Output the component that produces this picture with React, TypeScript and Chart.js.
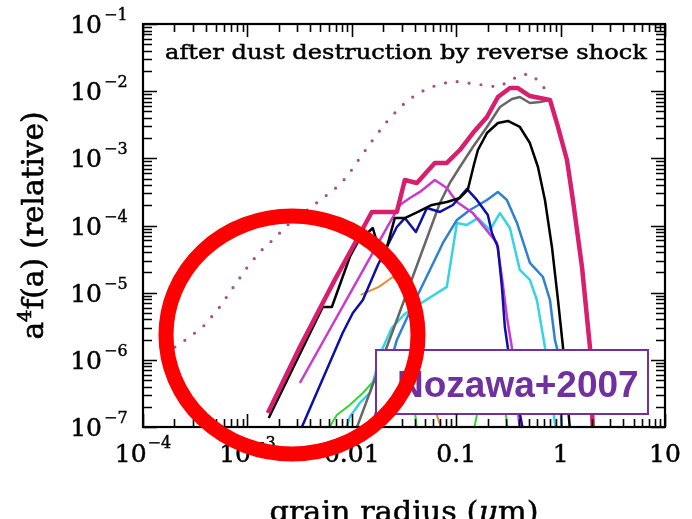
import React, { useEffect, useRef } from "react";
import { Chart, registerables } from "chart.js";

Chart.register(...registerables);

// ---------- axes ----------
const xRange = [1e-4, 10];
const yRange = [1e-7, 1e-1];
const xTickValues = [1e-4, 1e-3, 1e-2, 1e-1, 1, 10];
const xTickBase = ["10", "10", "0.01", "0.1", "1", "10"];
const xTickSup = ["−4", "−3", "", "", "", ""];
const yTickValues = [1e-1, 1e-2, 1e-3, 1e-4, 1e-5, 1e-6, 1e-7];
const yTickBase = ["10", "10", "10", "10", "10", "10", "10"];
const yTickSup = ["−1", "−2", "−3", "−4", "−5", "−6", "−7"];

const annotationText = "after dust destruction by reverse shock";
const xTitleParts = ["grain radius (", "μ", "m)"];
const yTitleParts = ["a", "4", "f(a) (relative)"];
const sourceLabel = "Nozawa+2007";

// ---------- series (grain radius in μm, a^4 f(a)) ----------
const dottedX = [2.02e-4, 2.81e-4, 3.91e-4, 5.43e-4, 7.24e-4, 9.86e-4, 1.31e-3, 1.75e-3, 2.55e-3, 3.62e-3, 5.16e-3, 6.87e-3, 8.95e-3, 0.01194, 0.01663, 0.02312, 0.0344, 0.0536, 0.091, 0.151, 0.2506, 0.327, 0.407, 0.508, 0.634, 0.7396];
const dottedY = [1.55e-6, 2.19e-6, 3.3e-6, 6.12e-6, 1.17e-5, 2.33e-5, 4.04e-5, 6.08e-5, 1.09e-4, 1.64e-4, 2.48e-4, 3.5e-4, 5.27e-4, 1.01e-3, 2.08e-3, 3.99e-3, 7.4e-3, 0.01114, 0.01416, 0.0128, 0.01153, 0.01416, 0.01742, 0.01803, 0.01371, 9.73e-3];

const green1X = [0.00589, 0.00719, 0.00957, 0.01276, 0.01592, 0.0231, 0.0322, 0.0385, 0.042];
const green1Y = [9e-8, 1.51e-7, 2.13e-7, 3.21e-7, 4.68e-7, 9.3e-7, 9.3e-7, 3.56e-7, 9e-8];

const green2X = [0.1476, 0.1687, 0.2198, 0.28, 0.3126];
const green2Y = [9e-8, 2.52e-7, 7.06e-7, 3.56e-7, 9e-8];

const orangeX = [0.01219, 0.01816, 0.0247, 0.0337, 0.0411, 0.0469, 0.0585, 0.0729];
const orangeY = [9.25e-6, 1.22e-5, 1.71e-5, 1.22e-5, 3.92e-6, 9.95e-7, 2.52e-7, 9e-8];

const cyanX = [0.00877, 0.00957, 0.01194, 0.01489, 0.01941, 0.02415, 0.0322, 0.048, 0.0813, 0.1016, 0.1265, 0.1614, 0.2104, 0.2624, 0.327, 0.407, 0.508, 0.593, 0.708, 0.9016];
const cyanY = [9e-8, 1.41e-7, 2.28e-7, 3.21e-7, 1.4e-6, 2.98e-6, 4.82e-6, 7.26e-6, 1.22e-5, 1.09e-4, 1.02e-4, 1.29e-4, 8.57e-5, 1.53e-4, 9.18e-5, 2.18e-5, 1.55e-5, 7.78e-6, 1.55e-6, 9e-8];

const steelX = [0.01521, 0.027, 0.0393, 0.056, 0.0746, 0.1016, 0.1352, 0.197, 0.2506, 0.306, 0.382, 0.508, 0.678, 0.791, 0.883, 0.923, 1.03];
const steelY = [9e-8, 1.97e-6, 7.0e-6, 2.18e-5, 5.5e-5, 1.21e-4, 1.7e-4, 2.4e-4, 3.16e-4, 2.4e-4, 1.09e-4, 2.77e-5, 1.71e-5, 7.78e-6, 1.97e-6, 1.5e-6, 9e-8];

const grayX = [0.01094, 0.027, 0.0698, 0.0869, 0.1084, 0.1445, 0.197, 0.2624, 0.342, 0.407, 0.508, 0.634, 0.791, 0.944, 1.151, 1.312, 1.603, 1.91, 2.04];
const grayY = [9e-8, 3.92e-6, 2.16e-4, 4.3e-4, 7.43e-4, 1.476e-3, 2.93e-3, 5.81e-3, 7.64e-3, 8.18e-3, 6.67e-3, 6.9e-3, 7.4e-3, 2.93e-3, 9.44e-4, 2.4e-4, 2.41e-5, 1.55e-6, 8e-8];

const magentaX = [0.00318, 0.01858, 0.02884, 0.036, 0.0449, 0.0624, 0.0813, 0.1016, 0.1445, 0.2455, 0.274, 0.306, 0.342, 0.407];
const magentaY = [4.52e-7, 6.08e-5, 2.02e-4, 2.57e-4, 3.16e-4, 4.76e-4, 3.61e-4, 2.24e-4, 1.53e-4, 5.5e-5, 1.71e-5, 4.35e-6, 1.5e-6, 9e-8];

const navyX = [0.00323, 0.00817, 0.01023, 0.01276, 0.01778, 0.027, 0.0322, 0.0411, 0.0524, 0.0698, 0.0929, 0.1265, 0.1578, 0.201, 0.2198, 0.2506, 0.274, 0.2924, 0.3126, 0.4355];
const navyY = [9e-8, 2.51e-6, 4.99e-6, 7.78e-6, 2.58e-5, 9.5e-5, 1.29e-4, 8.0e-5, 1.82e-4, 1.59e-4, 2.02e-4, 3.5e-4, 2.4e-4, 1.43e-4, 7.74e-5, 4.79e-5, 1.22e-5, 3.08e-6, 1.5e-6, 9e-8];

const blackX = [0.0016, 0.00527, 0.00644, 0.00957, 0.01143, 0.01589, 0.01982, 0.0258, 0.0322, 0.043, 0.0585, 0.0813, 0.1084, 0.129, 0.1476, 0.1614, 0.197, 0.251, 0.3126, 0.407, 0.508, 0.607, 0.708, 0.826, 0.944, 1.054, 1.23];
const blackY = [1.36e-7, 6.12e-6, 6.12e-6, 3.4e-5, 5.68e-5, 9.18e-5, 2.86e-5, 1.29e-4, 1.29e-4, 1.59e-4, 2.02e-4, 2.24e-4, 2.57e-4, 3.38e-4, 7.96e-4, 1.33e-3, 2.38e-3, 3.36e-3, 3.6e-3, 2.93e-3, 1.69e-3, 7.43e-4, 2.4e-4, 4.79e-5, 7.78e-6, 1.55e-6, 9e-8];

const crimsonX = [0.00157, 0.00318, 0.00687, 0.01023, 0.01556, 0.027, 0.0322, 0.042, 0.0624, 0.0813, 0.1084, 0.1445, 0.197, 0.251, 0.327, 0.39, 0.508, 0.634, 0.791, 0.944, 1.151, 1.312, 1.603, 1.91, 2.04];
const crimsonY = [1.62e-7, 1.55e-6, 1.55e-5, 4.79e-5, 1.59e-4, 1.59e-4, 4.76e-4, 4.3e-4, 8.53e-4, 8.53e-4, 1.33e-3, 2.38e-3, 4.12e-3, 8.18e-3, 0.01114, 0.01114, 8.47e-3, 7.91e-3, 7.4e-3, 2.93e-3, 9.44e-4, 2.4e-4, 2.41e-5, 1.55e-6, 8e-8];

const pts = (xs: number[], ys: number[]) => xs.map((x, i) => ({ x, y: ys[i] }));

const SERIF = '"DejaVu Serif", "Liberation Serif", serif';

function txt(ctx: CanvasRenderingContext2D, t: string, x: number, y: number, weight: number) {
  ctx.fillText(t, x, y);
  if (weight > 0) {
    ctx.lineWidth = weight;
    ctx.strokeText(t, x, y);
  }
}

function drawParts(ctx: CanvasRenderingContext2D, parts: { t: string; font: string; dy: number }[], x: number, y: number, targetWidth: number | null, align: "left" | "center", weight: number) {
  let total = 0;
  const widths = parts.map((p) => {
    ctx.font = p.font;
    const w = ctx.measureText(p.t).width;
    total += w;
    return w;
  });
  const sx = targetWidth ? targetWidth / total : 1;
  ctx.save();
  ctx.translate(x, y);
  ctx.scale(sx, 1);
  ctx.textAlign = "left";
  ctx.textBaseline = "alphabetic";
  let cx = align === "center" ? -total / 2 : 0;
  parts.forEach((p, i) => {
    ctx.font = p.font;
    txt(ctx, p.t, cx, p.dy, weight);
    cx += widths[i];
  });
  ctx.restore();
}

const overlayPlugin = {
  id: "overlayPlugin",
  afterDatasetsDraw(chart: any) {
    const ctx: CanvasRenderingContext2D = chart.ctx;
    ctx.save();
    ctx.fillStyle = "#ffffff";
    ctx.fillRect(376, 350, 272, 64);
    ctx.strokeStyle = "#7030a0";
    ctx.lineWidth = 2;
    ctx.strokeRect(376, 350, 272, 64);
    ctx.fillStyle = "#7030a0";
    ctx.font = 'bold 37px "Liberation Sans", Arial, sans-serif';
    ctx.textAlign = "left";
    ctx.textBaseline = "alphabetic";
    ctx.fillText(sourceLabel, 397, 397);
    ctx.restore();
  },
  afterDraw(chart: any) {
    const ctx: CanvasRenderingContext2D = chart.ctx;
    const xs = chart.scales.x;
    const ys = chart.scales.y;
    const { left, right, top, bottom } = chart.chartArea;
    ctx.save();
    ctx.strokeStyle = "#000";
    ctx.lineWidth = 1.6;
    ctx.lineCap = "butt";
    ctx.beginPath();
    for (let d = -4; d <= 1; d++) {
      for (let k = 1; k <= 9; k++) {
        const v = k * Math.pow(10, d);
        if (v > xRange[1] * 1.0001) break;
        const px = Math.round(xs.getPixelForValue(v)) + 0.5;
        const len = k === 1 ? 13 : 8;
        ctx.moveTo(px, bottom);
        ctx.lineTo(px, bottom - len);
        ctx.moveTo(px, top);
        ctx.lineTo(px, top + len);
      }
    }
    for (let d = -7; d <= -1; d++) {
      for (let k = 1; k <= 9; k++) {
        const v = k * Math.pow(10, d);
        if (v > yRange[1] * 1.0001) break;
        const py = Math.round(ys.getPixelForValue(v)) + 0.5;
        const len = k === 1 ? 14 : 9;
        ctx.moveTo(left, py);
        ctx.lineTo(left + len, py);
        ctx.moveTo(right, py);
        ctx.lineTo(right - len, py);
      }
    }
    ctx.stroke();
    ctx.lineWidth = 2.2;
    ctx.strokeRect(left, top, right - left, bottom - top);

    // tick labels
    ctx.fillStyle = "#000";
    ctx.strokeStyle = "#000";
    ctx.textBaseline = "alphabetic";
    xTickValues.forEach((v, i) => {
      const base = xTickBase[i];
      const sup = xTickSup[i];
      ctx.font = `25px ${SERIF}`;
      const wb = ctx.measureText(base).width;
      ctx.font = `16px ${SERIF}`;
      const ws = sup ? ctx.measureText(sup).width + 1 : 0;
      const px = xs.getPixelForValue(v);
      const x0 = px - (wb + ws) / 2;
      ctx.textAlign = "left";
      ctx.font = `25px ${SERIF}`;
      txt(ctx, base, x0, 462, 0.5);
      if (sup) {
        ctx.font = `16px ${SERIF}`;
        txt(ctx, sup, x0 + wb + 1, 448, 0.4);
      }
    });
    yTickValues.forEach((v, i) => {
      const py = ys.getPixelForValue(v);
      ctx.font = `25px ${SERIF}`;
      ctx.textAlign = "right";
      txt(ctx, yTickBase[i], 102, py + 9, 0.5);
      ctx.font = `16px ${SERIF}`;
      ctx.textAlign = "left";
      txt(ctx, yTickSup[i], 104, py - 4, 0.4);
    });

    // annotation inside the frame
    drawParts(ctx, [{ t: annotationText, font: `21px ${SERIF}`, dy: 0 }], 165, 59, 482, "left", 0.5);

    // x title
    drawParts(
      ctx,
      [
        { t: xTitleParts[0], font: `27px ${SERIF}`, dy: 0 },
        { t: xTitleParts[1], font: `italic 27px ${SERIF}`, dy: 0 },
        { t: xTitleParts[2], font: `27px ${SERIF}`, dy: 0 },
      ],
      (left + right) / 2,
      521,
      269,
      "center",
      0.5
    );

    // y title (rotated)
    ctx.save();
    ctx.translate(43, (top + bottom) / 2);
    ctx.rotate(-Math.PI / 2);
    drawParts(
      ctx,
      [
        { t: yTitleParts[0], font: `29px ${SERIF}`, dy: 0 },
        { t: yTitleParts[1], font: `19px ${SERIF}`, dy: -12 },
        { t: yTitleParts[2], font: `29px ${SERIF}`, dy: 0 },
      ],
      0,
      0,
      228,
      "center",
      0.6
    );
    ctx.restore();

    // red ring
    ctx.beginPath();
    ctx.ellipse(292, 335, 126, 119, 0, 0, Math.PI * 2);
    ctx.strokeStyle = "#ff0000";
    ctx.lineWidth = 15;
    ctx.stroke();
    ctx.restore();
  },
};

const seriesDefs = [
  { label: "initial", xs: dottedX, ys: dottedY, color: "#a8507e", width: 3.2, dash: [0, 12] },
  { label: "green a", xs: green1X, ys: green1Y, color: "#2ed82e", width: 2 },
  { label: "green b", xs: green2X, ys: green2Y, color: "#2ed82e", width: 2 },
  { label: "orange", xs: orangeX, ys: orangeY, color: "#e38d2c", width: 2 },
  { label: "cyan", xs: cyanX, ys: cyanY, color: "#35d4e2", width: 2.5 },
  { label: "steel", xs: steelX, ys: steelY, color: "#2e80d2", width: 2.5 },
  { label: "gray", xs: grayX, ys: grayY, color: "#666666", width: 2.5 },
  { label: "magenta", xs: magentaX, ys: magentaY, color: "#c93ad0", width: 2.5 },
  { label: "navy", xs: navyX, ys: navyY, color: "#0d10a6", width: 2.5 },
  { label: "black", xs: blackX, ys: blackY, color: "#000000", width: 2.5 },
  { label: "total", xs: crimsonX, ys: crimsonY, color: "#d81f6e", width: 4.5 },
];

export default function App() {
  const canvasRef = useRef<HTMLCanvasElement | null>(null);

  useEffect(() => {
    if (!canvasRef.current) return;
    const n = seriesDefs.length;
    const chart = new Chart(canvasRef.current, {
      type: "scatter",
      data: {
        datasets: seriesDefs.map((s, i) => ({
          label: s.label,
          data: pts(s.xs, s.ys),
          borderColor: s.color,
          backgroundColor: s.color,
          borderWidth: s.width,
          borderDash: (s as any).dash || [],
          borderCapStyle: (s as any).dash ? "round" : "butt",
          borderJoinStyle: "round",
          showLine: true,
          pointRadius: 0,
          pointHoverRadius: 0,
          tension: 0,
          fill: false,
          clip: 0,
          order: n - i,
        })),
      } as any,
      options: {
        animation: false,
        responsive: false,
        devicePixelRatio: 1,
        events: [],
        layout: { padding: { left: 143, top: 24, right: 27, bottom: 92 } },
        plugins: { legend: { display: false }, tooltip: { enabled: false } },
        scales: {
          x: { type: "logarithmic", min: xRange[0], max: xRange[1], display: false },
          y: { type: "logarithmic", min: yRange[0], max: yRange[1], display: false },
        },
      } as any,
      plugins: [overlayPlugin as any],
    });
    return () => chart.destroy();
  }, []);

  return (
    <div style={{ position: "fixed", left: 0, top: 0, width: 692, height: 519, background: "#fff" }}>
      <canvas ref={canvasRef} width={692} height={519} style={{ display: "block", width: 692, height: 519 }} />
    </div>
  );
}
